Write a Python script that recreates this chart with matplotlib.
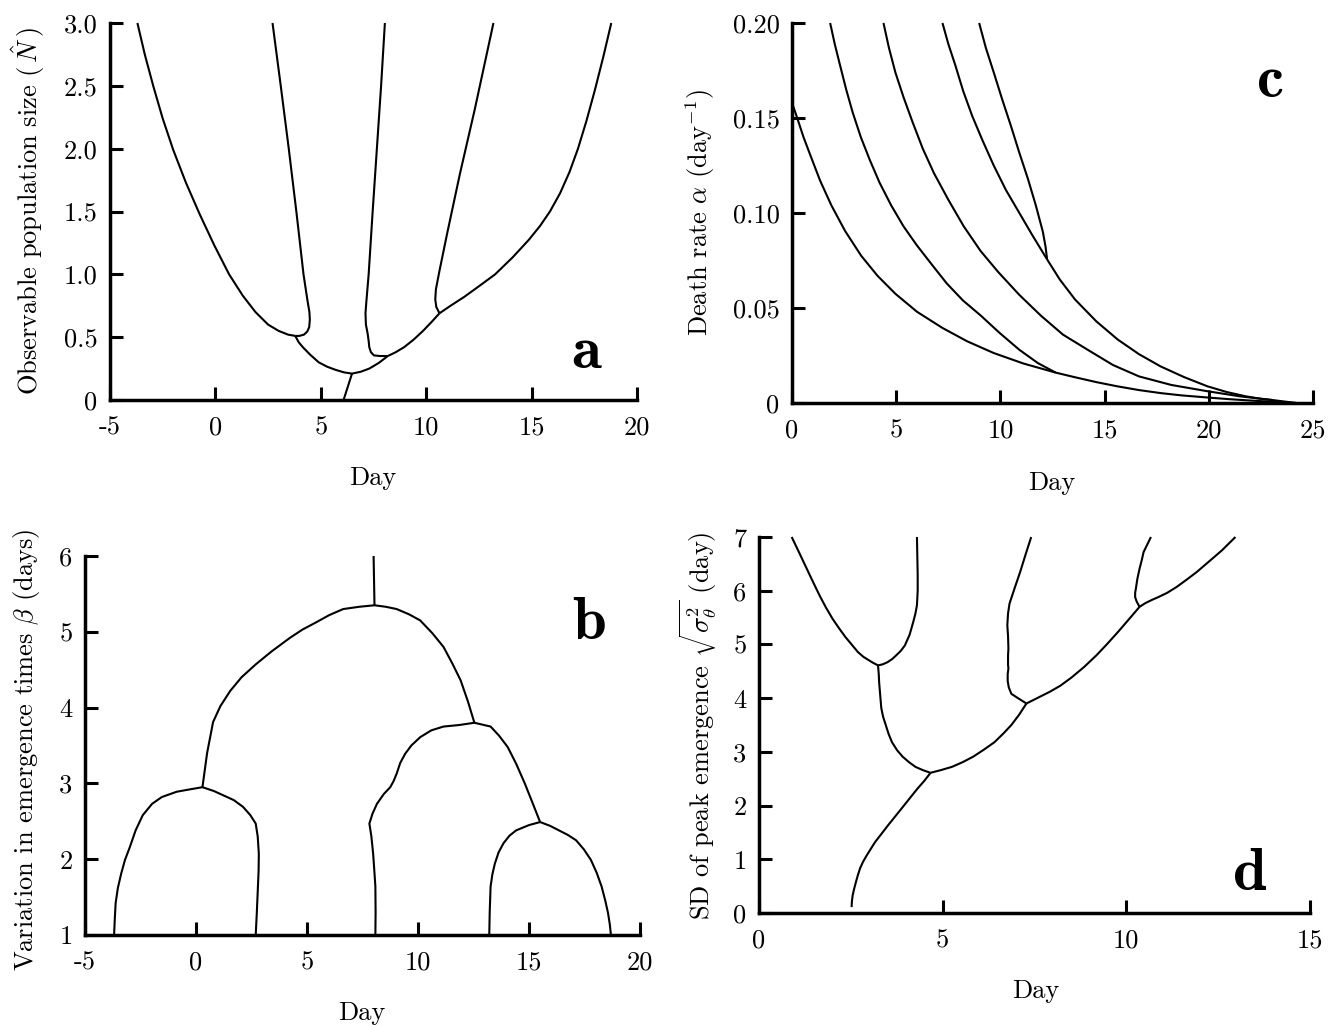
import matplotlib
matplotlib.use("Agg")
import matplotlib.pyplot as plt

plt.rcParams["font.family"] = "cmr10"
plt.rcParams["mathtext.fontset"] = "cm"
plt.rcParams["axes.unicode_minus"] = False
plt.rcParams["axes.formatter.use_mathtext"] = True

# ---------------- panel a: observable population size ----------------
a_xticks = [-5, 0, 5, 10, 15, 20]
a_xlabels = ["-5", "0", "5", "10", "15", "20"]
a_yticks = [0, 0.5, 1.0, 1.5, 2.0, 2.5, 3.0]
a_ylabels = ["0", "0.5", "1.0", "1.5", "2.0", "2.5", "3.0"]

a_outer_left_x = [-3.70, -3.35, -2.95, -2.50, -2.00, -1.40, -0.75, -0.05, 0.65,
                  1.30, 1.90, 2.50, 3.00, 3.45, 3.79]
a_outer_left_y = [3.00, 2.75, 2.50, 2.24, 1.99, 1.73, 1.48, 1.23, 1.00,
                  0.83, 0.70, 0.60, 0.55, 0.52, 0.51]
a_inner_left_x = [2.71, 3.10, 3.48, 3.84, 4.18, 4.36, 4.46, 4.48, 4.45, 4.36,
                  4.20, 3.98, 3.79]
a_inner_left_y = [3.00, 2.50, 2.00, 1.50, 1.00, 0.80, 0.70, 0.64, 0.58, 0.545,
                  0.52, 0.51, 0.51]
a_low_x = [3.79, 3.95, 4.15, 4.50, 4.90, 5.30, 5.70, 6.10, 6.48, 6.90, 7.30,
           7.75, 8.18]
a_low_y = [0.51, 0.46, 0.42, 0.36, 0.30, 0.265, 0.24, 0.22, 0.21, 0.225, 0.25,
           0.295, 0.35]
a_stem_x = [6.48, 6.08]
a_stem_y = [0.21, 0.0]
a_mid_x = [8.04, 7.86, 7.66, 7.46, 7.27, 7.16, 7.12, 7.14, 7.22, 7.27, 7.30,
           7.38, 7.52, 7.80, 8.18]
a_mid_y = [3.00, 2.50, 2.00, 1.50, 1.00, 0.78, 0.69, 0.60, 0.53, 0.47, 0.42,
           0.38, 0.355, 0.35, 0.35]
a_rise_x = [8.18, 8.55, 8.95, 9.40, 9.85, 10.25, 10.63]
a_rise_y = [0.35, 0.38, 0.42, 0.48, 0.55, 0.62, 0.69]
a_inner_right_x = [10.63, 10.48, 10.43, 10.46, 10.62, 11.00, 11.60, 12.30, 13.19]
a_inner_right_y = [0.69, 0.74, 0.80, 0.88, 1.02, 1.33, 1.80, 2.31, 3.00]
a_outer_right_x = [10.63, 11.20, 11.80, 12.50, 13.27, 14.10, 14.87, 15.40, 15.87,
                   16.35, 16.80, 17.20, 17.60, 18.00, 18.40, 18.78]
a_outer_right_y = [0.69, 0.755, 0.82, 0.905, 1.00, 1.135, 1.275, 1.385, 1.50,
                   1.645, 1.815, 2.00, 2.22, 2.465, 2.73, 3.00]

# ---------------- panel c: death rate ----------------
c_xticks = [0, 5, 10, 15, 20, 25]
c_xlabels = ["0", "5", "10", "15", "20", "25"]
c_yticks = [0, 0.05, 0.10, 0.15, 0.20]
c_ylabels = ["0", "0.05", "0.10", "0.15", "0.20"]

c_curve1_x = [0.0, 0.25, 0.55, 0.86, 1.35, 1.89, 2.55, 3.32, 4.10, 4.96, 6.00,
              7.22, 8.40, 9.68, 11.10, 12.65, 13.60, 14.60, 15.60, 16.65, 17.70,
              18.70, 20.04, 21.00, 22.00, 23.10, 24.20]
c_curve1_y = [0.158, 0.150, 0.140, 0.131, 0.117, 0.104, 0.0905, 0.0775, 0.0670,
              0.0575, 0.0480, 0.0395, 0.0325, 0.0263, 0.0208, 0.0160, 0.0135,
              0.0110, 0.0088, 0.0068, 0.0052, 0.0040, 0.0028, 0.0020, 0.0013,
              0.0006, 0.0]
c_curve2_x = [1.83, 2.05, 2.30, 2.60, 2.91, 3.30, 3.73, 4.20, 4.76, 5.35, 5.99,
              6.70, 7.42, 8.20, 9.06, 9.95, 10.91, 11.80, 12.65]
c_curve2_y = [0.20, 0.189, 0.178, 0.165, 0.153, 0.140, 0.128, 0.116, 0.104,
              0.093, 0.083, 0.073, 0.063, 0.054, 0.046, 0.037, 0.028, 0.021, 0.016]
c_curve3_x = [4.39, 4.65, 4.96, 5.35, 5.78, 6.27, 6.81, 7.50, 8.24, 9.05, 9.89,
              10.90, 11.94, 13.00, 14.19, 15.40, 16.65, 18.20, 19.93, 21.50,
              23.10, 24.20]
c_curve3_y = [0.20, 0.187, 0.174, 0.161, 0.148, 0.134, 0.121, 0.107, 0.093,
              0.080, 0.069, 0.057, 0.046, 0.036, 0.028, 0.020, 0.014, 0.0095,
              0.0062, 0.0035, 0.0015, 0.0]
c_curve4_x = [7.22, 7.50, 7.83, 8.22, 8.65, 9.15, 9.68, 10.27, 10.91, 11.55, 12.24]
c_curve4_y = [0.20, 0.189, 0.178, 0.164, 0.151, 0.138, 0.125, 0.112, 0.100,
              0.088, 0.0756]
c_curve5_x = [8.98, 9.30, 9.68, 10.08, 10.50, 10.90, 11.32, 11.70, 12.04, 12.17,
              12.24]
c_curve5_y = [0.20, 0.187, 0.174, 0.160, 0.146, 0.132, 0.118, 0.104, 0.090,
              0.082, 0.0756]
c_curve6_x = [12.24, 12.85, 13.58, 14.60, 15.63, 16.65, 17.68, 18.80, 19.93,
              20.85, 21.78, 22.50, 23.10]
c_curve6_y = [0.0756, 0.065, 0.0545, 0.043, 0.0334, 0.0257, 0.0193, 0.0137,
              0.0088, 0.0058, 0.0035, 0.0022, 0.0015]

# ---------------- panel b: variation in emergence times ----------------
b_xticks = [-5, 0, 5, 10, 15, 20]
b_xlabels = ["-5", "0", "5", "10", "15", "20"]
b_yticks = [1, 2, 3, 4, 5, 6]
b_ylabels = ["1", "2", "3", "4", "5", "6"]

b_arc1_x = [-3.69, -3.66, -3.62, -3.52, -3.37, -3.20, -2.98, -2.72, -2.40,
            -1.98, -1.54, -0.87, -0.30, 0.29, 0.80, 1.25, 1.70, 2.12, 2.45,
            2.69, 2.78, 2.83, 2.82, 2.79, 2.74, 2.69]
b_arc1_y = [1.00, 1.20, 1.42, 1.62, 1.81, 1.99, 2.16, 2.38, 2.58, 2.73, 2.82,
            2.89, 2.92, 2.95, 2.90, 2.84, 2.78, 2.69, 2.58, 2.47, 2.30, 2.07,
            1.85, 1.64, 1.30, 1.00]
b_big_x = [0.29, 0.50, 0.77, 1.10, 1.54, 2.05, 2.69, 3.40, 4.23, 4.80, 5.38,
           6.00, 6.63, 7.35, 8.04, 8.55, 9.04, 9.60, 10.10, 10.65, 11.15, 11.55,
           11.92, 12.25, 12.54]
b_big_y = [2.95, 3.40, 3.81, 4.02, 4.22, 4.40, 4.57, 4.74, 4.92, 5.03, 5.12,
           5.22, 5.30, 5.33, 5.35, 5.33, 5.30, 5.23, 5.15, 4.98, 4.80, 4.58,
           4.36, 4.08, 3.80]
b_top_x = [8.04, 8.00]
b_top_y = [5.35, 6.00]
b_arc2_x = [8.08, 8.09, 8.08, 8.03, 7.98, 7.90, 7.81, 7.95, 8.15, 8.46, 8.75,
            8.90, 9.04, 9.20, 9.42, 9.70, 10.10, 10.60, 11.15, 11.85, 12.54,
            13.27, 13.65, 14.04, 14.42, 14.81, 15.15, 15.50]
b_arc2_y = [1.00, 1.30, 1.64, 1.86, 2.07, 2.30, 2.47, 2.60, 2.73, 2.86, 2.95,
            3.03, 3.13, 3.27, 3.39, 3.50, 3.61, 3.70, 3.75, 3.77, 3.80,
            3.75, 3.63, 3.48, 3.26, 3.00, 2.75, 2.49]
b_arc3_x = [13.21, 13.23, 13.27, 13.35, 13.46, 13.63, 13.85, 14.12, 14.42,
            15.00, 15.50, 15.95, 16.35, 16.75, 17.12, 17.47, 17.79, 18.05,
            18.27, 18.43, 18.56, 18.64, 18.69]
b_arc3_y = [1.00, 1.30, 1.64, 1.80, 1.94, 2.09, 2.21, 2.31, 2.38, 2.45, 2.49,
            2.44, 2.38, 2.32, 2.25, 2.13, 1.99, 1.82, 1.64, 1.46, 1.29, 1.14, 1.00]

# ---------------- panel d: SD of peak emergence ----------------
d_xticks = [0, 5, 10, 15]
d_xlabels = ["0", "5", "10", "15"]
d_yticks = [0, 1, 2, 3, 4, 5, 6, 7]
d_ylabels = ["0", "1", "2", "3", "4", "5", "6", "7"]

d_u1_x = [0.89, 1.10, 1.30, 1.48, 1.65, 1.82, 2.00, 2.18, 2.35, 2.52, 2.69,
          2.84, 2.98, 3.10, 3.24, 3.37, 3.50, 3.63, 3.74, 3.86, 3.97, 4.10,
          4.20, 4.26, 4.30, 4.32, 4.32, 4.31, 4.30]
d_u1_y = [7.00, 6.70, 6.41, 6.15, 5.91, 5.69, 5.48, 5.30, 5.14, 5.00, 4.86,
          4.77, 4.71, 4.66, 4.61, 4.63, 4.67, 4.73, 4.80, 4.88, 4.98, 5.18,
          5.42, 5.58, 5.73, 6.00, 6.29, 6.65, 7.00]
d_stem_x = [3.24, 3.26, 3.27, 3.30, 3.33, 3.38, 3.45, 3.53, 3.62, 3.76, 3.91,
            4.08, 4.26, 4.46, 4.67]
d_stem_y = [4.61, 4.45, 4.30, 4.05, 3.81, 3.65, 3.50, 3.33, 3.18, 3.03, 2.91,
            2.81, 2.72, 2.66, 2.61]
d_trunk_x = [4.67, 4.50, 4.32, 4.12, 3.91, 3.71, 3.51, 3.33, 3.16, 3.04, 2.93,
             2.83, 2.75, 2.69, 2.64, 2.59, 2.55, 2.53, 2.52]
d_trunk_y = [2.61, 2.46, 2.32, 2.15, 1.97, 1.80, 1.63, 1.47, 1.32, 1.19, 1.07,
             0.95, 0.83, 0.70, 0.58, 0.45, 0.33, 0.22, 0.11]
d_mid_x = [4.67, 4.95, 5.25, 5.55, 5.83, 6.12, 6.41, 6.65, 6.87, 7.08, 7.28]
d_mid_y = [2.61, 2.66, 2.72, 2.81, 2.91, 3.04, 3.18, 3.34, 3.50, 3.69, 3.90]
d_branch1_x = [7.28, 7.05, 6.87, 6.80, 6.77, 6.77, 6.79, 6.78, 6.78, 6.79,
               6.78, 6.76, 6.78, 6.82, 6.96, 7.11, 7.26, 7.41]
d_branch1_y = [3.90, 4.00, 4.08, 4.20, 4.32, 4.45, 4.55, 4.62, 4.80, 4.92,
               5.15, 5.36, 5.58, 5.76, 6.05, 6.35, 6.68, 7.00]
d_upper_x = [7.28, 7.60, 7.92, 8.20, 8.50, 8.85, 9.19, 9.48, 9.77, 10.06, 10.36]
d_upper_y = [3.90, 4.01, 4.12, 4.23, 4.38, 4.58, 4.80, 5.01, 5.23, 5.46, 5.70]
d_branch2_x = [10.36, 10.28, 10.24, 10.24, 10.26, 10.30, 10.36, 10.42, 10.47,
               10.57, 10.67]
d_branch2_y = [5.70, 5.80, 5.88, 5.96, 6.04, 6.22, 6.41, 6.57, 6.72, 6.86, 7.00]
d_outer_x = [10.36, 10.52, 10.70, 10.90, 11.11, 11.37, 11.63, 11.92, 12.21,
             12.60, 12.97]
d_outer_y = [5.70, 5.77, 5.83, 5.89, 5.96, 6.07, 6.20, 6.35, 6.52, 6.75, 7.00]

W, H = 1339, 1026
fig = plt.figure(figsize=(W / 100, H / 100), dpi=100)
fig.patch.set_facecolor("white")


def box(left, top, right, bottom):
    return [left / W, 1 - bottom / H, (right - left) / W, (bottom - top) / H]


LW = 1.5
TICK_FS = 19
LETTER_FS = 44


def style(ax, xlim, ylim, xt, xl, yt, yl):
    ax.set_xlim(*xlim)
    ax.set_ylim(*ylim)
    for s in ("top", "right"):
        ax.spines[s].set_visible(False)
    for s in ("left", "bottom"):
        ax.spines[s].set_linewidth(2.5)
        ax.spines[s].set_capstyle("projecting")
    ax.set_xticks(xt)
    ax.set_xticklabels(xl)
    ax.set_yticks(yt)
    ax.set_yticklabels(yl)
    ax.tick_params(axis="both", direction="in", length=9.5, width=2.2,
                   labelsize=TICK_FS)
    ax.tick_params(axis="x", pad=11)
    ax.tick_params(axis="y", pad=9)
    ax.patch.set_alpha(0)


def curve(ax, x, y):
    ax.plot(x, y, color="black", lw=LW, solid_capstyle="butt",
            solid_joinstyle="round", clip_on=False)


# panel a
ax_a = fig.add_axes(box(110, 23, 637, 400))
style(ax_a, (-5, 20), (0, 3.0), a_xticks, a_xlabels, a_yticks, a_ylabels)
for x, y in [(a_outer_left_x, a_outer_left_y), (a_inner_left_x, a_inner_left_y),
             (a_low_x, a_low_y), (a_stem_x, a_stem_y), (a_mid_x, a_mid_y),
             (a_rise_x, a_rise_y), (a_inner_right_x, a_inner_right_y),
             (a_outer_right_x, a_outer_right_y)]:
    curve(ax_a, x, y)
ax_a.text(0.903, 0.085, "a", transform=ax_a.transAxes, family="cmb10",
          fontsize=LETTER_FS, ha="center", va="baseline")

# panel c
ax_c = fig.add_axes(box(792, 23, 1313, 403))
style(ax_c, (0, 25), (0, 0.20), c_xticks, c_xlabels, c_yticks, c_ylabels)
for x, y in [(c_curve1_x, c_curve1_y), (c_curve2_x, c_curve2_y),
             (c_curve3_x, c_curve3_y), (c_curve4_x, c_curve4_y),
             (c_curve5_x, c_curve5_y), (c_curve6_x, c_curve6_y)]:
    curve(ax_c, x, y)
ax_c.text(0.919, 0.805, "c", transform=ax_c.transAxes, family="cmb10",
          fontsize=LETTER_FS, ha="center", va="baseline")

# panel b
ax_b = fig.add_axes(box(85, 556, 640, 935))
style(ax_b, (-5, 20), (1, 6), b_xticks, b_xlabels, b_yticks, b_ylabels)
for x, y in [(b_arc1_x, b_arc1_y), (b_big_x, b_big_y), (b_top_x, b_top_y),
             (b_arc2_x, b_arc2_y), (b_arc3_x, b_arc3_y)]:
    curve(ax_b, x, y)
ax_b.text(0.908, 0.782, "b", transform=ax_b.transAxes, family="cmb10",
          fontsize=LETTER_FS, ha="center", va="baseline")

# panel d
ax_d = fig.add_axes(box(759, 537, 1310, 913))
style(ax_d, (0, 15), (0, 7), d_xticks, d_xlabels, d_yticks, d_ylabels)
for x, y in [(d_u1_x, d_u1_y), (d_stem_x, d_stem_y), (d_trunk_x, d_trunk_y),
             (d_mid_x, d_mid_y), (d_branch1_x, d_branch1_y),
             (d_upper_x, d_upper_y), (d_branch2_x, d_branch2_y),
             (d_outer_x, d_outer_y)]:
    curve(ax_d, x, y)
ax_d.text(0.891, 0.061, "d", transform=ax_d.transAxes, family="cmb10",
          fontsize=LETTER_FS, ha="center", va="baseline")

# axis titles
LAB_FS = 19
fig.text(373 / W, 1 - 478 / H, "Day", fontsize=LAB_FS, ha="center", va="center")
fig.text(1052 / W, 1 - 483 / H, "Day", fontsize=LAB_FS, ha="center", va="center")
fig.text(362 / W, 1 - 1013 / H, "Day", fontsize=LAB_FS, ha="center", va="center")
fig.text(1036 / W, 1 - 991 / H, "Day", fontsize=LAB_FS, ha="center", va="center")

fig.text(28 / W, 1 - 211 / H, r"Observable population size $(\,\hat{N}\,)$",
         fontsize=LAB_FS, rotation=90, ha="center", va="center")
fig.text(700 / W, 1 - 213 / H, r"Death rate $\alpha$ (day$^{-1}$)",
         fontsize=LAB_FS, rotation=90, ha="center", va="center")
fig.text(27 / W, 1 - 750 / H, r"Variation in emergence times $\beta$ (days)",
         fontsize=LAB_FS, rotation=90, ha="center", va="center")
fig.text(698 / W, 1 - 726 / H, r"SD of peak emergence $\sqrt{\sigma^2_\theta}$ (day)",
         fontsize=LAB_FS, rotation=90, ha="center", va="center")

fig.savefig("out.png", dpi=100, facecolor="white")
